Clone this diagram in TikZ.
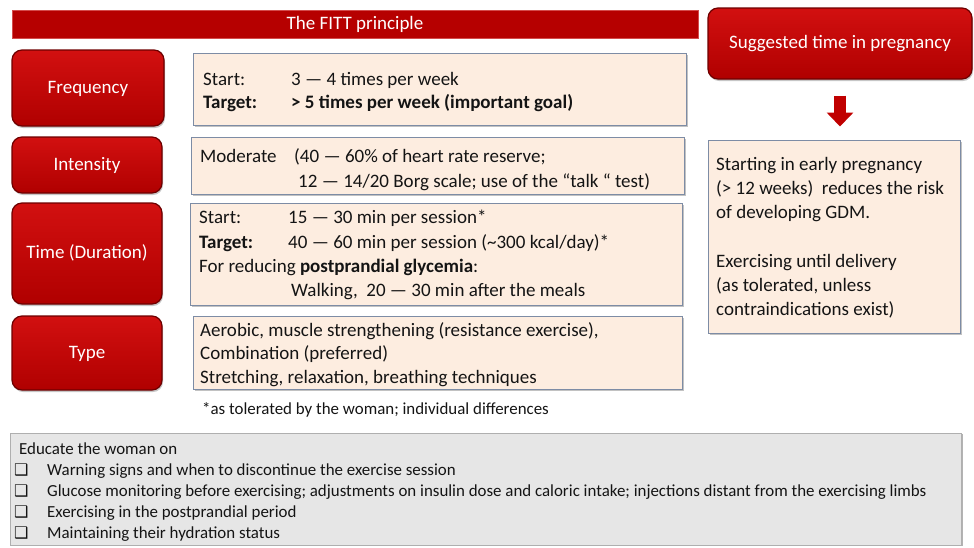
\documentclass[tikz,border=0pt]{standalone}
\usepackage{fontspec}
\setmainfont{Carlito}
\newfontfamily\symfont{DejaVu Sans}
\usetikzlibrary{shadows,arrows.meta,calc}
\definecolor{fittred}{RGB}{192,0,0}
\definecolor{fittredlight}{RGB}{210,16,16}
\definecolor{fittreddark}{RGB}{176,0,0}
\definecolor{redborder}{RGB}{110,0,0}
\definecolor{beige}{RGB}{253,237,224}
\definecolor{beigeborder}{RGB}{125,140,165}
\definecolor{greyfill}{RGB}{230,230,230}
\definecolor{greyborder}{RGB}{175,175,175}
\definecolor{txtcol}{RGB}{20,20,20}
\begin{document}
\begin{tikzpicture}[x=1pt,y=-1pt,
  txt/.style={anchor=base west, inner sep=0pt, font=\fontsize{19}{22}\selectfont, text=txtcol},
  smalltxt/.style={anchor=base west, inner sep=0pt, font=\fontsize{16.9}{20}\selectfont, text=txtcol},
  bullet/.style={anchor=base west, inner sep=0pt, font=\symfont\fontsize{16}{18}\selectfont, text=txtcol},
  redbox/.style={rounded corners=10pt, top color=fittredlight, bottom color=fittreddark, draw=redborder, line width=1.2pt,
    text=white, font=\fontsize{19}{22}\selectfont, inner sep=0pt, text height=10pt, text depth=0pt,
    drop shadow={shadow xshift=1pt, shadow yshift=-2pt, opacity=0.45}},
  beigebox/.style={fill=beige, draw=beigeborder, line width=1pt, inner sep=0pt,
    drop shadow={shadow xshift=1.5pt, shadow yshift=-1.5pt, opacity=0.6, fill=gray!80}},
  bigarrow/.style={line width=12pt, fittred, -{Triangle[length=14pt, width=26pt]}}
]
\useasboundingbox (0,0) rectangle (974,547);

% title bar
\node[fill=fittred!95!black, draw=fittred!70, line width=0.6pt, minimum width=686pt, minimum height=28pt, inner sep=0pt,
  text=white, font=\fontsize{19}{22}\selectfont] (title) at (355,24) {The FITT principle};

% right column
\node[redbox, minimum width=264pt, minimum height=71pt] (sug) at (840,43.5) {Suggested time in pregnancy};
\node[beigebox, minimum width=252pt, minimum height=193pt] (rbox) at (834,236.5) {};
\draw[bigarrow, shorten <=16pt, shorten >=13pt] (sug.south) -- (sug.south |- rbox.north);
\node[txt] (r1) at (716,170) {Starting in early pregnancy};
\node[txt] (r2) at (716,194) {(> 12 weeks)\ \ reduces the risk};
\node[txt] (r3) at (716,218) {of developing GDM.};
\node[txt] (r4) at (716,267) {Exercising until delivery};
\node[txt] (r5) at (716,291) {(as tolerated, unless};
\node[txt] (r6) at (716,315) {contraindications exist)};

% left labels
\node[redbox, minimum width=152pt, minimum height=76pt] (freq) at (88,88) {Frequency};
\node[redbox, minimum width=150pt, minimum height=56pt] (inten) at (87,165) {Intensity};
\node[redbox, minimum width=150pt, minimum height=101pt] (time) at (87,253.5) {Time (Duration)};
\node[redbox, minimum width=150pt, minimum height=74pt] (type) at (87,353) {Type};

% beige boxes
\node[beigebox, minimum width=493pt, minimum height=72pt] (fbox) at (439.5,89) {};
\node[beigebox, minimum width=493pt, minimum height=57pt] (ibox) at (437.5,165.5) {};
\node[beigebox, minimum width=492pt, minimum height=102pt] (tbox) at (436,254) {};
\node[beigebox, minimum width=489pt, minimum height=73pt] (ybox) at (437.5,352.5) {};

% frequency text
\node[txt] (f1) at (203,85) {Start:};
\node[txt] (f2) at (291,85) {3 — 4 times per week};
\node[txt] (f3) at (203,108) {\bfseries Target:};
\node[txt] (f4) at (291,108) {\bfseries > 5 times per week (important goal)};

% intensity text
\node[txt] (i1) at (200,162) {Moderate};
\node[txt] (i2) at (294,162) {(40 — 60\% of heart rate reserve;};
\node[txt] (i3) at (298,187) {12 — 14/20 Borg scale; use of the “talk “ test)};

% time text
\node[txt] (t1) at (199,223) {Start:};
\node[txt] (t2) at (288,223) {15 — 30 min per session*};
\node[txt] (t3) at (199,248) {\bfseries Target:};
\node[txt] (t4) at (288,248) {40 — 60 min per session (\char"007E 300 kcal/day)*};
\node[txt] (t5) at (199,272) {For reducing \textbf{postprandial glycemia}:};
\node[txt] (t6) at (291,296) {Walking,\ \ 20 — 30 min after the meals};

% type text
\node[txt] (y1) at (200,336) {Aerobic, muscle strengthening (resistance exercise),};
\node[txt] (y2) at (200,359) {Combination (preferred)};
\node[txt] (y3) at (200,383) {Stretching, relaxation, breathing techniques};

\node[smalltxt] (foot) at (202,414) {*as tolerated by the woman; individual differences};

% bottom grey box
\node[fill=greyfill, draw=greyborder, line width=0.8pt, minimum width=951pt, minimum height=112pt, inner sep=0pt,
  drop shadow={shadow xshift=1.5pt, shadow yshift=-1pt, opacity=0.6, fill=gray}] (gbox) at (485.5,489) {};
\node[smalltxt] (g0) at (19,454) {Educate the woman on};
\node[bullet] (b1) at (14,475) {❑};
\node[smalltxt] (g1) at (47,475) {Warning signs and when to discontinue the exercise session};
\node[bullet] (b2) at (14,496) {❑};
\node[smalltxt] (g2) at (47,496) {Glucose monitoring before exercising; adjustments on insulin dose and caloric intake; injections distant from the exercising limbs};
\node[bullet] (b3) at (14,517) {❑};
\node[smalltxt] (g3) at (47,517) {Exercising in the postprandial period};
\node[bullet] (b4) at (14,538) {❑};
\node[smalltxt] (g4) at (47,538) {Maintaining their hydration status};
\end{tikzpicture}
\end{document}
